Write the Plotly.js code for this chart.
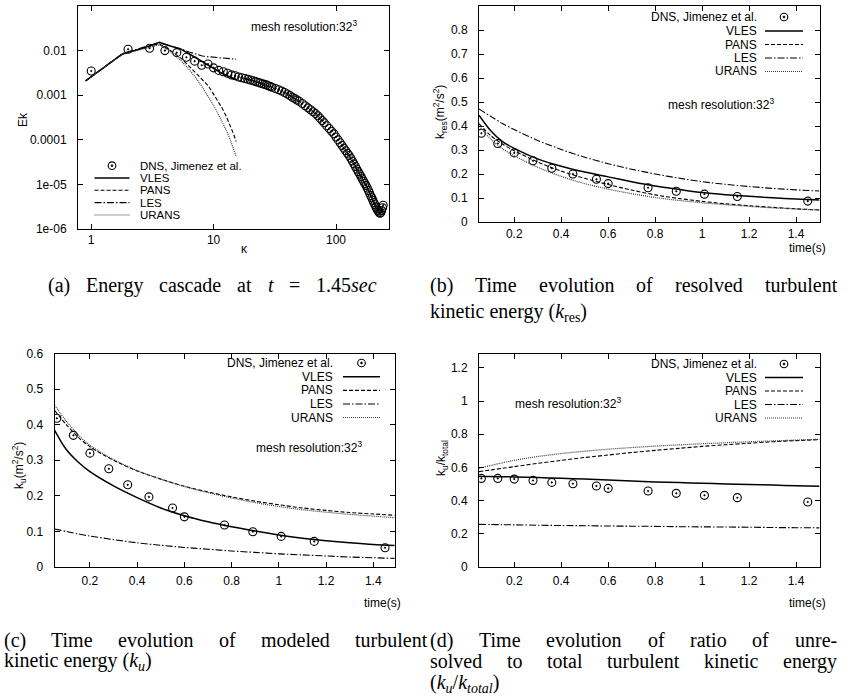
<!DOCTYPE html>
<html>
<head>
<meta charset="utf-8">
<script src="https://cdn.plot.ly/plotly-3.0.1.min.js"></script>
<style>
html,body{margin:0;padding:0;background:#fff;}
#chart{width:863px;height:697px;}
</style>
</head>
<body>
<div id="chart"></div>
<script>
// ---------------- DATA ----------------
// (a) Energy spectrum at t = 1.45 s
const kappaDNS = [1,2,3,4,5,6,7,8,9,10,11,12,13,14,15,16,17,18,19,20,21,22,23,24,25,26,27,28,29,30,
  32,34,36,38,40,42,44,46,48,50,53,56,59,62,65,68,71,74,77,80,84,88,92,96,100,
  104,108,112,116,120,124,128,132,136,140,144,148,152,156,160,164,168,172,176,180,
  184,188,192,196,200,204,208,212,216,220,224,228,232,236,240,243];
const ekDNS = [3.5e-3,1.07e-2,1.13e-2,1.0e-2,9.0e-3,7.1e-3,5.8e-3,4.7e-3,5.0e-3,4.1e-3,3.6e-3,3.35e-3,3.1e-3,2.85e-3,2.72e-3,
  2.56e-3,2.47e-3,2.36e-3,2.28e-3,2.19e-3,2.11e-3,2.02e-3,1.95e-3,1.88e-3,1.81e-3,1.75e-3,1.70e-3,1.63e-3,1.57e-3,1.51e-3,
  1.41e-3,1.32e-3,1.24e-3,1.15e-3,1.06e-3,9.8e-4,9.0e-4,8.4e-4,7.8e-4,7.3e-4,6.5e-4,5.8e-4,5.2e-4,4.7e-4,4.25e-4,3.86e-4,3.47e-4,
  3.06e-4,2.71e-4,2.41e-4,2.07e-4,1.79e-4,1.56e-4,1.36e-4,1.16e-4,
  9.95e-5,8.6e-5,7.45e-5,6.5e-5,5.7e-5,5.0e-5,4.43e-5,3.86e-5,3.34e-5,2.89e-5,2.52e-5,2.2e-5,1.93e-5,1.7e-5,1.5e-5,1.33e-5,
  1.18e-5,1.05e-5,9.4e-6,8.3e-6,7.3e-6,6.4e-6,5.6e-6,5.0e-6,4.4e-6,3.9e-6,3.5e-6,3.1e-6,2.8e-6,2.6e-6,2.4e-6,2.25e-6,2.3e-6,
  2.6e-6,3.0e-6,3.4e-6];
const kappaModel = [0.9,1.8,2.7,3.6,4.5,5.4,6.3,7.2,8.1,9.0,9.9,10.8,11.7,12.6,13.5,14.4,15.3];
const ekVLES  = [2.1e-3,8.4e-3,1.15e-2,1.53e-2,1.25e-2,1.08e-2,8.5e-3,6.8e-3,5.5e-3,4.6e-3,4.0e-3,3.5e-3,3.1e-3,2.8e-3,2.6e-3,2.4e-3,2.25e-3];
const ekPANS  = [2.1e-3,8.4e-3,1.15e-2,1.42e-2,9.8e-3,6.8e-3,4.5e-3,3.1e-3,2.2e-3,1.65e-3,1.1e-3,7.5e-4,5.2e-4,3.5e-4,2.3e-4,1.45e-4,9.1e-5];
const ekLES   = [2.1e-3,8.6e-3,1.2e-2,1.5e-2,1.25e-2,1.1e-2,9.3e-3,8.2e-3,7.6e-3,7.3e-3,7.1e-3,6.9e-3,6.8e-3,6.7e-3,6.6e-3,6.5e-3,6.4e-3];
const ekURANS = [2.1e-3,8.3e-3,1.1e-2,1.35e-2,9.2e-3,6.0e-3,3.8e-3,2.4e-3,1.5e-3,9.5e-4,6.2e-4,4.0e-4,2.6e-4,1.7e-4,1.1e-4,6.8e-5,4.2e-5];
const ekTickVals = [1e-6,1e-5,1e-4,1e-3,1e-2,1e-1];
const ekTickText = ['1e-06','1e-05','0.0001','0.001','0.01','0.1'];
const kappaTickVals = [1,10,100];
const kappaTickText = ['1','10','100'];

// (b)(c)(d) time evolution
const timeDNS  = [0.06,0.13,0.2,0.28,0.36,0.45,0.55,0.6,0.77,0.89,1.01,1.15,1.45];
const kresDNS  = [0.37,0.327,0.288,0.255,0.224,0.2,0.178,0.16,0.143,0.128,0.116,0.106,0.087];
const kuDNS    = [0.418,0.37,0.32,0.276,0.231,0.197,0.166,0.141,0.118,0.099,0.086,0.072,0.054];
const ratioDNS = [0.534,0.534,0.53,0.522,0.51,0.502,0.488,0.474,0.458,0.444,0.432,0.418,0.392];

const modelTime = [0.05,0.1,0.15,0.2,0.3,0.4,0.5,0.6,0.7,0.8,0.9,1.0,1.1,1.2,1.3,1.4,1.5];
const kresVLES  = [0.445,0.38,0.335,0.307,0.263,0.232,0.208,0.188,0.168,0.15,0.136,0.123,0.114,0.107,0.101,0.096,0.092];
const kresPANS  = [0.41,0.36,0.325,0.297,0.25,0.212,0.182,0.156,0.133,0.113,0.098,0.086,0.076,0.068,0.061,0.055,0.05];
const kresLES   = [0.471,0.44,0.41,0.385,0.34,0.302,0.27,0.243,0.22,0.2,0.183,0.168,0.157,0.148,0.14,0.134,0.129];
const kresURANS = [0.40,0.345,0.305,0.276,0.228,0.19,0.16,0.137,0.118,0.102,0.09,0.08,0.072,0.065,0.059,0.054,0.05];

const kuVLES  = [0.385,0.33,0.295,0.268,0.228,0.195,0.166,0.144,0.127,0.113,0.101,0.09,0.081,0.074,0.068,0.063,0.06];
const kuPANS  = [0.44,0.4,0.365,0.338,0.3,0.27,0.247,0.227,0.211,0.197,0.185,0.175,0.166,0.159,0.153,0.149,0.145];
const kuLES   = [0.107,0.1,0.093,0.087,0.077,0.068,0.061,0.055,0.05,0.045,0.041,0.037,0.034,0.031,0.028,0.026,0.024];
const kuURANS = [0.455,0.41,0.372,0.342,0.302,0.271,0.247,0.226,0.209,0.194,0.181,0.17,0.161,0.154,0.148,0.143,0.138];

const ratioVLES  = [0.545,0.545,0.544,0.543,0.539,0.535,0.53,0.525,0.519,0.513,0.509,0.505,0.501,0.497,0.494,0.49,0.487];
const ratioPANS  = [0.575,0.585,0.595,0.605,0.625,0.643,0.66,0.675,0.69,0.703,0.715,0.727,0.737,0.746,0.755,0.762,0.768];
const ratioLES   = [0.257,0.256,0.255,0.254,0.252,0.25,0.249,0.247,0.246,0.245,0.243,0.242,0.241,0.24,0.238,0.237,0.236];
const ratioURANS = [0.595,0.612,0.628,0.643,0.666,0.684,0.698,0.71,0.72,0.729,0.736,0.743,0.749,0.755,0.76,0.765,0.77];

const seriesNames = ['DNS, Jimenez et al.','VLES','PANS','LES','URANS'];

// ---------------- STYLE / LAYOUT HELPERS ----------------
const W = 863, H = 697;
const px = v => v / W;
const py = v => 1 - v / H;
const sans = 'Liberation Sans, Arial, sans-serif';
const serif = 'Liberation Serif, Times New Roman, serif';

const lineStyles = {
  VLES:  {color:'#000', width:1.5},
  PANS:  {color:'#000', width:1.1, dash:'4px,2px'},
  LES:   {color:'#000', width:1.1, dash:'7px,2px,1.5px,2px'},
  URANS: {color:'#3a3a3a', width:1.2, dash:'1px,1px'}
};
const dnsMarker = {symbol:'circle-open-dot', size:8, color:'#000', line:{color:'#000', width:1.1}};

const box = {
  a:{x:[78,389], y:[6,229]},
  b:{x:[479,819.5], y:[6,222]},
  c:{x:[54.5,394.5], y:[353.5,567]},
  d:{x:[479,819.5], y:[353.5,567]}
};
const dom = b => ({x:[px(b.x[0]),px(b.x[1])], y:[py(b.y[1]),py(b.y[0])]});

function axisBase(extra){
  return Object.assign({
    showline:true, linecolor:'#000', linewidth:1, mirror:'ticks',
    ticks:'inside', ticklen:5, tickwidth:1, tickcolor:'#000',
    showgrid:false, zeroline:false,
    tickfont:{family:sans, size:12, color:'#000'}
  }, extra);
}

const traces = [];
function addPanel(xa, ya, xDNS, yDNS, xM, ys, shape){
  traces.push({x:xDNS, y:yDNS, xaxis:xa, yaxis:ya, mode:'markers', type:'scatter', marker:dnsMarker, name:seriesNames[0]});
  const keys = ['VLES','PANS','LES','URANS'];
  keys.forEach((k,i)=>{
    traces.push({x:xM, y:ys[i], xaxis:xa, yaxis:ya, mode:'lines', type:'scatter',
      line:Object.assign({shape:shape, smoothing:0.8}, lineStyles[k]), name:seriesNames[i+1]});
  });
}
addPanel('x','y', kappaDNS, ekDNS, kappaModel, [ekVLES,ekPANS,ekLES,ekURANS], 'linear');
addPanel('x2','y2', timeDNS, kresDNS, modelTime, [kresVLES,kresPANS,kresLES,kresURANS], 'spline');
addPanel('x3','y3', timeDNS, kuDNS, modelTime, [kuVLES,kuPANS,kuLES,kuURANS], 'spline');
addPanel('x4','y4', timeDNS, ratioDNS, modelTime, [ratioVLES,ratioPANS,ratioLES,ratioURANS], 'spline');

const annotations = [];
const shapes = [];
function txt(text, x, y, opt){
  annotations.push(Object.assign({text:text, x:px(x), y:py(y), xref:'paper', yref:'paper', showarrow:false,
    xanchor:'center', yanchor:'middle', borderpad:0, font:{family:sans, size:12, color:'#000'}}, opt||{}));
}

// Legends (manual, gnuplot style)
function sample(i, x0, x1, y){
  if(i===0){
    const cx = (x0+x1)/2, r = 3.8, rd = 0.9;
    shapes.push({type:'circle', xref:'paper', yref:'paper', x0:px(cx-r), x1:px(cx+r), y0:py(y+r), y1:py(y-r), line:{color:'#000', width:1.1}});
    shapes.push({type:'circle', xref:'paper', yref:'paper', x0:px(cx-rd), x1:px(cx+rd), y0:py(y+rd), y1:py(y-rd), line:{color:'#000', width:0.8}, fillcolor:'#000'});
  } else {
    const k = ['VLES','PANS','LES','URANS'][i-1];
    shapes.push({type:'line', xref:'paper', yref:'paper', x0:px(x0), x1:px(x1), y0:py(y), y1:py(y), line:lineStyles[k]});
  }
}
function legendRight(textRight, x0, x1, rows){
  seriesNames.forEach((n,i)=>{
    txt(n, textRight, rows[i], {xanchor:'right'});
    sample(i, x0, x1, rows[i]);
  });
}
function legendLeft(x0, x1, textLeft, rows, size){
  seriesNames.forEach((n,i)=>{
    txt(n, textLeft, rows[i], {xanchor:'left', font:{family:sans, size:size, color:'#000'}});
    sample(i, x0, x1, rows[i]);
  });
}
legendLeft(94.5, 129.5, 138.5, [165.7,178,190.3,202.6,215], 11.5);
legendRight(758, 765, 803, [17,31,44.5,58,71.5]);
legendRight(334, 343, 380, [363,376.7,390.4,404,417.5]);
legendRight(758, 765, 803, [364,377.5,391,404.5,418]);

// mesh resolution labels
const meshText = 'mesh resolution:32<sup>3</sup>';
txt(meshText, 250, 26, {xanchor:'left'});
txt(meshText, 667, 104, {xanchor:'left'});
txt(meshText, 255, 447, {xanchor:'left'});
txt(meshText, 514, 403, {xanchor:'left'});

// axis titles
txt('Ek', 23, 120, {textangle:-90});
txt('κ', 245, 249);
txt('k<sub>res</sub>(m<sup>2</sup>/s<sup>2</sup>)', 440, 112, {textangle:-90});
txt('time(s)', 807, 248);
txt('k<sub>u</sub>(m<sup>2</sup>/s<sup>2</sup>)', 19, 466, {textangle:-90});
txt('time(s)', 382, 603);
txt('k<sub>u</sub>/k<sub>total</sub>', 442, 458, {textangle:-90});
txt('time(s)', 807, 603);

// Captions (LaTeX-like, justified lines)
const capSize = 20;
const ctx = document.createElement('canvas').getContext('2d');
function measure(s){
  const plain = s.replace(/<[^>]+>/g,'');
  ctx.font = capSize + 'px "Liberation Serif"';
  return ctx.measureText(plain).width;
}
function capLine(words, x0, x1, y){
  const ws = words.map(measure);
  const total = ws.reduce((a,b)=>a+b,0);
  const gap = (x1 - x0 - total) / (words.length - 1);
  let x = x0;
  words.forEach((w,i)=>{
    txt(w, x, y, {xanchor:'left', font:{family:serif, size:capSize, color:'#000'}});
    x += ws[i] + gap;
  });
}
function capPlain(text, x0, y, opt){
  txt(text, x0, y, Object.assign({xanchor:'left', font:{family:serif, size:capSize, color:'#000'}}, opt||{}));
}
capLine(['(a)','Energy','cascade','at','<i>t</i>','=','1.45<i>sec</i>'], 47, 376, 285);
capLine(['(b)','Time','evolution','of','resolved','turbulent'], 429, 836, 285);
capPlain('kinetic energy (<i>k</i><sub>res</sub>)', 429, 312);
capLine(['(c)','Time','evolution','of','modeled','turbulent'], 3, 426, 640);
capPlain('kinetic energy (<i>k<sub>u</sub></i>)', 3, 661);
capLine(['(d)','Time','evolution','of','ratio','of','unre-'], 429, 836, 640);
capLine(['solved','to','total','turbulent','kinetic','energy'], 429, 836, 661);
capPlain('(<i>k<sub>u</sub></i>/<i>k<sub>total</sub></i>)', 429, 696.5, {yanchor:'bottom'});

const layout = {
  width:W, height:H, margin:{l:0,r:0,t:0,b:0},
  paper_bgcolor:'#fff', plot_bgcolor:'#fff', showlegend:false,
  xaxis: axisBase({domain:dom(box.a).x, anchor:'y', type:'log', range:[Math.log10(0.78), Math.log10(271)],
    tickmode:'array', tickvals:kappaTickVals, ticktext:kappaTickText, ticklabelstandoff:0}),
  yaxis: axisBase({domain:dom(box.a).y, anchor:'x', type:'log', range:[-6,-1],
    tickmode:'array', tickvals:ekTickVals, ticktext:ekTickText, ticklabelstandoff:8}),
  xaxis2: axisBase({domain:dom(box.b).x, anchor:'y2', range:[0.05,1.5], tick0:0, dtick:0.2, ticklabelstandoff:1}),
  yaxis2: axisBase({domain:dom(box.b).y, anchor:'x2', range:[0,0.9], tick0:0, dtick:0.1, ticklabelstandoff:8}),
  xaxis3: axisBase({domain:dom(box.c).x, anchor:'y3', range:[0.05,1.49], tick0:0, dtick:0.2, ticklabelstandoff:3}),
  yaxis3: axisBase({domain:dom(box.c).y, anchor:'x3', range:[0,0.6], tick0:0, dtick:0.1, ticklabelstandoff:8}),
  xaxis4: axisBase({domain:dom(box.d).x, anchor:'y4', range:[0.05,1.5], tick0:0, dtick:0.2, ticklabelstandoff:3}),
  yaxis4: axisBase({domain:dom(box.d).y, anchor:'x4', range:[0,1.287], tick0:0, dtick:0.2, ticklabelstandoff:8}),
  annotations:annotations,
  shapes:shapes
};

Plotly.newPlot('chart', traces, layout, {staticPlot:true, displayModeBar:false});
</script>
</body>
</html>
